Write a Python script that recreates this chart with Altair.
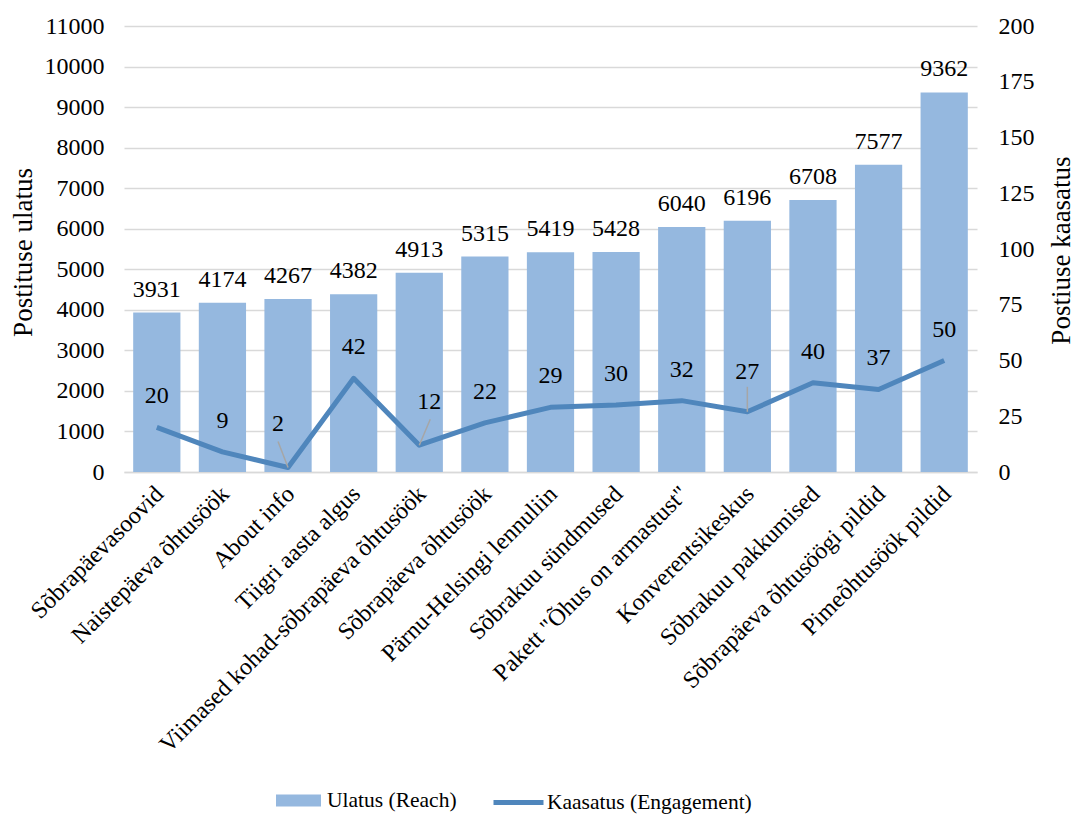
import altair as alt
import pandas as pd

# Post names, reach and engagement per post
categories = [
    "Sõbrapäevasoovid",
    "Naistepäeva õhtusöök",
    "About info",
    "Tiigri aasta algus",
    "Viimased kohad-sõbrapäeva õhtusöök",
    "Sõbrapäeva õhtusöök",
    "Pärnu-Helsingi lennuliin",
    "Sõbrakuu sündmused",
    'Pakett "Õhus on armastust"',
    "Konverentsikeskus",
    "Sõbrakuu pakkumised",
    "Sõbrapäeva õhtusöögi pildid",
    "Pimeõhtusöök pildid",
]
reach = [3931, 4174, 4267, 4382, 4913, 5315, 5419, 5428, 6040, 6196, 6708, 7577, 9362]
engagement = [20, 9, 2, 42, 12, 22, 29, 30, 32, 27, 40, 37, 50]

reach_ticks = list(range(0, 11001, 1000))
engagement_ticks = list(range(0, 201, 25))

BAR_NAME = "Ulatus (Reach)"
LINE_NAME = "Kaasatus (Engagement)"

df = pd.DataFrame({
    "post": categories,
    "reach": reach,
    "engagement": engagement,
    "bar_series": BAR_NAME,
    "line_series": LINE_NAME,
})

FONT = "Liberation Serif"
TICK_SIZE = 24
LABEL_SIZE = 24
TITLE_SIZE = 27
LEGEND_SIZE = 21.5
BAR_COLOR = "#95B8DF"
LINE_COLOR = "#4F86BC"
GRID = "#D9D9D9"

# Engagement labels that sit off to the side with a leader line:
# (label dx, label dy, leader end dx, leader end dy) in pixels
callouts = {
    "About info": (-10, -44, -10, -26),
    "Viimased kohad-sõbrapäeva õhtusöök": (10, -43, 11, -26),
    "Konverentsikeskus": (0, -40, 0, -25),
}

x_enc = alt.X(
    "post:N",
    sort=categories,
    title=None,
    scale=alt.Scale(paddingInner=0.28, paddingOuter=0.14),
    axis=alt.Axis(
        labelAngle=315,
        labelAlign="right",
        labelBaseline="middle",
        labelFont=FONT,
        labelFontSize=TICK_SIZE,
        labelColor="#000000",
        labelPadding=18,
        labelOffset=3,
        ticks=False,
        domainColor=GRID,
        domainWidth=1.5,
        labelOverlap=False,
        labelLimit=600,
    ),
)

y_reach = alt.Y(
    "reach:Q",
    scale=alt.Scale(domain=[0, 11000], nice=False),
    axis=alt.Axis(
        values=reach_ticks,
        format="d",
        title="Postituse ulatus",
        titleFont=FONT,
        titleFontSize=TITLE_SIZE,
        titleFontWeight="normal",
        titleColor="#000000",
        titleAngle=270,
        titleX=-101,
        titleY=226,
        titleAlign="center",
        titleBaseline="middle",
        labelFont=FONT,
        labelFontSize=TICK_SIZE,
        labelColor="#000000",
        labelPadding=20,
        ticks=False,
        domain=False,
        gridColor=GRID,
        gridWidth=1.5,
    ),
)

bars = alt.Chart(df).mark_bar(color=BAR_COLOR).encode(
    x=x_enc,
    y=y_reach,
    color=alt.Color(
        "bar_series:N",
        title=None,
        scale=alt.Scale(range=[BAR_COLOR]),
        legend=alt.Legend(
            orient="none",
            legendX=152,
            legendY=752,
            symbolType="M-1,-0.27H1V0.27H-1Z",
            symbolSize=2025,
            symbolStrokeWidth=0,
            symbolOpacity=1,
            labelFont=FONT,
            labelFontSize=LEGEND_SIZE,
            labelColor="#000000",
            labelOffset=6,
            labelLimit=400,
        ),
    ),
)

bar_labels = alt.Chart(df).mark_text(
    font=FONT, fontSize=LABEL_SIZE, color="#000000", baseline="middle", dy=-23
).encode(
    x=alt.X("post:N", sort=categories),
    y=alt.Y("reach:Q"),
    text=alt.Text("reach:Q", format="d"),
)

reach_layer = alt.layer(bars, bar_labels)

y_eng = alt.Y(
    "engagement:Q",
    scale=alt.Scale(domain=[0, 200], nice=False),
    axis=alt.Axis(
        values=engagement_ticks,
        format="d",
        orient="right",
        title="Postiuse kaasatus",
        titleFont=FONT,
        titleFontSize=TITLE_SIZE,
        titleFontWeight="normal",
        titleColor="#000000",
        titleAngle=270,
        titleX=84,
        titleY=224,
        titleAlign="center",
        titleBaseline="middle",
        labelFont=FONT,
        labelFontSize=TICK_SIZE,
        labelColor="#000000",
        labelPadding=21,
        ticks=False,
        domain=False,
        grid=False,
    ),
)

line = alt.Chart(df).mark_line(strokeWidth=5, strokeJoin="round").encode(
    x=alt.X("post:N", sort=categories),
    y=y_eng,
    stroke=alt.Stroke(
        "line_series:N",
        title=None,
        scale=alt.Scale(range=[LINE_COLOR]),
        legend=alt.Legend(
            orient="none",
            legendX=367,
            legendY=749,
            symbolType="stroke",
            symbolSize=2500,
            symbolStrokeWidth=5,
            labelFont=FONT,
            labelFontSize=LEGEND_SIZE,
            labelColor="#000000",
            labelOffset=1,
            labelLimit=400,
        ),
    ),
)

plain = [c for c in categories if c not in callouts]
line_labels = alt.Chart(df).transform_filter(
    alt.FieldOneOfPredicate(field="post", oneOf=plain)
).mark_text(
    font=FONT, fontSize=LABEL_SIZE, color="#000000", baseline="middle", dy=-31
).encode(
    x=alt.X("post:N", sort=categories),
    y=alt.Y("engagement:Q"),
    text=alt.Text("engagement:Q", format="d"),
)

eng_layers = [line, line_labels]
for name, (ldx, ldy, rdx, rdy) in callouts.items():
    base = alt.Chart(df).transform_filter(alt.datum.post == name)
    leader = base.mark_rule(
        color="#A6A6A6", strokeWidth=1.5, x2Offset=rdx, y2Offset=rdy
    ).encode(
        x=alt.X("post:N", sort=categories, bandPosition=0.5),
        x2=alt.X2("post", bandPosition=0.5),
        y=alt.Y("engagement:Q"),
        y2=alt.Y2("engagement"),
    )
    label = base.mark_text(
        font=FONT, fontSize=LABEL_SIZE, color="#000000", baseline="middle", dx=ldx, dy=ldy
    ).encode(
        x=alt.X("post:N", sort=categories),
        y=alt.Y("engagement:Q"),
        text=alt.Text("engagement:Q", format="d"),
    )
    eng_layers += [leader, label]

eng_layer = alt.layer(*eng_layers)

chart = (
    alt.layer(reach_layer, eng_layer)
    .resolve_scale(y="independent", color="independent", stroke="independent")
    .properties(
        width=853,
        height=446,
        autosize=alt.AutoSizeParams(type="none"),
        padding={"left": 124, "top": 26, "right": 99, "bottom": 345},
        background="#FFFFFF",
    )
    .configure_view(stroke=None)
    .configure_legend(padding=0)
)

chart.save("out.html", embed_options={"renderer": "svg", "actions": False})
